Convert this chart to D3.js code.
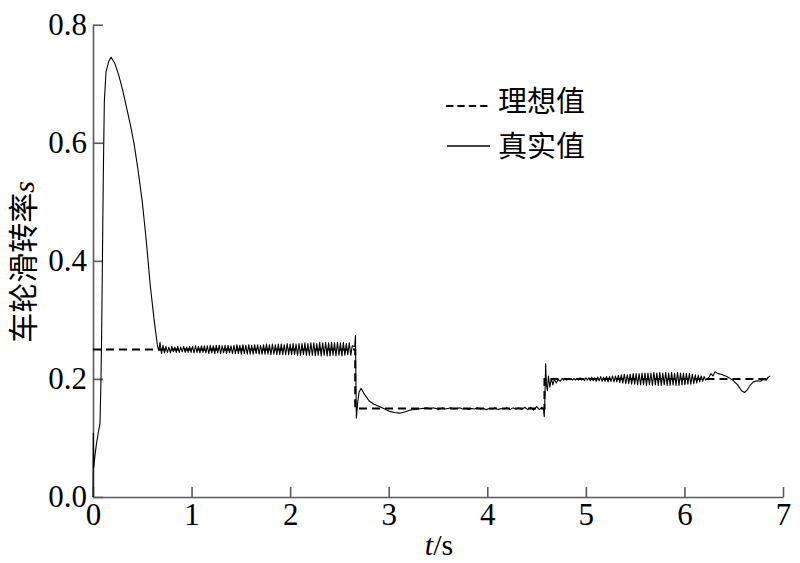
<!DOCTYPE html>
<html><head><meta charset="utf-8">
<script src="https://cdn.jsdelivr.net/npm/d3@7"></script>
<style>body{margin:0;background:#fff}svg{display:block}</style>
</head><body>
<svg id="c" width="800" height="563"></svg>
<script>
// ---------------- data ----------------
const xTicks = [0,1,2,3,4,5,6,7];
const yTicks = [0.0,0.2,0.4,0.6,0.8];
const yTickLabels = ["0.0","0.2","0.4","0.6","0.8"];

const idealT = [0, 2.66, 2.66, 4.58, 4.58, 6.88];
const idealS = [0.25, 0.25, 0.15, 0.15, 0.20, 0.20];

// start-up peak
const headT = [0,0.003,0.008,0.02,0.035,0.05,0.071,0.081,0.088,0.105,0.115,0.132,0.16,0.183,0.22,0.26,0.30,0.34,0.38,0.42,0.46,0.50,0.54,0.58,0.62,0.655,0.668];
const headS = [0,0.108,0.05,0.07,0.09,0.105,0.125,0.20,0.28,0.55,0.67,0.72,0.738,0.745,0.735,0.715,0.69,0.66,0.63,0.595,0.55,0.50,0.435,0.36,0.30,0.255,0.248];

// oscillation around 0.25 (t = 0.68 .. 2.63, every 0.015 s)
const seg1T0 = 0.68, seg1Dt = 0.015;
const seg1S = [
0.262,0.243,0.257,0.244,0.255,0.245,0.254,0.244,0.255,0.246,
0.254,0.245,0.255,0.245,0.254,0.246,0.255,0.245,0.254,0.245,
0.255,0.245,0.255,0.244,0.256,0.245,0.255,0.244,0.256,0.245,
0.256,0.244,0.256,0.243,0.257,0.244,0.256,0.243,0.257,0.244,
0.257,0.243,0.256,0.244,0.257,0.243,0.257,0.244,0.256,0.243,
0.257,0.243,0.258,0.243,0.257,0.242,0.258,0.243,0.257,0.242,
0.258,0.242,0.257,0.242,0.258,0.243,0.258,0.242,0.257,0.242,
0.258,0.242,0.259,0.242,0.258,0.241,0.259,0.242,0.258,0.241,
0.259,0.241,0.259,0.241,0.258,0.241,0.260,0.241,0.259,0.241,
0.260,0.241,0.259,0.240,0.260,0.240,0.260,0.241,0.261,0.240,
0.260,0.240,0.261,0.240,0.261,0.239,0.260,0.240,0.262,0.239,
0.261,0.240,0.262,0.239,0.261,0.239,0.262,0.240,0.261,0.239,
0.262,0.240,0.261,0.239,0.262,0.240,0.260,0.241,0.261,0.240,0.256];

// first step down
const step1T = [2.655,2.663,2.667,2.672,2.685,2.70,2.72,2.75,2.80,2.85,2.91,2.96,3.01,3.06,3.11,3.16,3.21,3.30,3.39];
const step1S = [0.255,0.274,0.20,0.134,0.16,0.178,0.184,0.175,0.163,0.157,0.153,0.149,0.145,0.143,0.142,0.144,0.147,0.149,0.151];

// level 0.15 (t = 3.42 .. 4.53, every 0.03 s)
const seg2T0 = 3.42, seg2Dt = 0.03;
const seg2S = [
0.149,0.151,0.150,0.148,0.151,0.149,0.150,0.151,0.149,0.150,
0.151,0.149,0.150,0.148,0.150,0.149,0.151,0.149,0.150,0.148,
0.150,0.149,0.151,0.148,0.150,0.149,0.151,0.148,0.151,0.149,
0.151,0.148,0.152,0.148,0.152,0.147,0.153,0.148];

// second step up
const step2T = [4.555,4.57,4.578,4.585,4.592,4.60,4.61,4.62,4.635,4.65,4.665,4.68,4.70,4.72,4.74];
const step2S = [0.152,0.148,0.136,0.17,0.226,0.19,0.18,0.205,0.186,0.201,0.19,0.199,0.193,0.199,0.196];

// oscillation around 0.20 (t = 4.76 .. 6.215, every 0.015 s)
const seg3T0 = 4.76, seg3Dt = 0.015;
const seg3S = [
0.201,0.198,0.200,0.198,0.201,0.199,0.200,0.198,0.201,0.198,
0.201,0.198,0.202,0.198,0.201,0.197,0.202,0.198,0.202,0.197,
0.203,0.197,0.202,0.196,0.203,0.197,0.204,0.196,0.203,0.196,
0.204,0.195,0.204,0.196,0.205,0.195,0.205,0.195,0.206,0.194,
0.207,0.193,0.208,0.192,0.207,0.192,0.208,0.191,0.209,0.191,
0.209,0.190,0.209,0.190,0.210,0.190,0.210,0.189,0.210,0.190,
0.210,0.189,0.211,0.190,0.210,0.189,0.211,0.189,0.210,0.190,
0.211,0.189,0.210,0.189,0.211,0.190,0.210,0.189,0.211,0.189,
0.210,0.190,0.210,0.190,0.209,0.191,0.209,0.191,0.208,0.192,
0.207,0.193,0.206,0.195,0.205,0.196,0.204,0.198];

// tail disturbance
const tailT = [6.25,6.27,6.29,6.31,6.34,6.37,6.43,6.49,6.54,6.58,6.61,6.64,6.67,6.70,6.74,6.77,6.80,6.83,6.85,6.87];
const tailS = [0.203,0.209,0.205,0.212,0.209,0.208,0.204,0.198,0.19,0.18,0.177,0.182,0.19,0.195,0.197,0.196,0.199,0.198,0.203,0.205];

const legendLabels = ["理想值","真实值"];
const yTitle = "车轮滑转率";
// ---------------------------------------

function pairs(ts, ss){ return ts.map((t,i)=>[t, ss[i]]); }
function sampled(t0, dt, ss){ return ss.map((s,i)=>[t0 + i*dt, s]); }
const real = [].concat(
  pairs(headT, headS),
  sampled(seg1T0, seg1Dt, seg1S),
  pairs(step1T, step1S),
  sampled(seg2T0, seg2Dt, seg2S),
  pairs(step2T, step2S),
  sampled(seg3T0, seg3Dt, seg3S),
  pairs(tailT, tailS));
const ideal = pairs(idealT, idealS);

const svg = d3.select("#c");
const x = d3.scaleLinear().domain([0,7]).range([93,783]);
const y = d3.scaleLinear().domain([0,0.8]).range([497,24.7]);

const serif = "'Liberation Serif','Times New Roman',serif";
const cjk = "'Noto Sans CJK SC','Noto Sans CJK JP',sans-serif";
const axisCol = "#5a5a5a";

// axes
const gx = svg.append("g").attr("transform","translate(0,497)")
  .call(d3.axisBottom(x).tickValues(xTicks).tickSize(-10).tickSizeOuter(0).tickPadding(15).tickFormat(d3.format("d")));
const gy = svg.append("g").attr("transform","translate(93,0)")
  .call(d3.axisLeft(y).tickValues(yTicks).tickSize(-10).tickSizeOuter(0).tickPadding(6).tickFormat((d,i)=>yTickLabels[i]));
[gx,gy].forEach(g=>{
  g.select(".domain").attr("stroke",axisCol).attr("stroke-width",1.6);
  g.selectAll(".tick line").attr("stroke",axisCol).attr("stroke-width",1.6);
  g.selectAll("text").attr("fill","#000").style("font-family",serif).style("font-size","31px");
});
gx.selectAll("text").attr("y",28).attr("dy","0");

// lines
const line = d3.line().x(d=>x(d[0])).y(d=>y(d[1]));
svg.append("path").datum(ideal).attr("d",line).attr("fill","none")
  .attr("stroke","#000").attr("stroke-width",2).attr("stroke-dasharray","8,5");
svg.append("path").datum(real).attr("d",line).attr("fill","none")
  .attr("stroke","#000").attr("stroke-width",1.1).attr("stroke-linejoin","round");

// legend
svg.append("text").attr("x",445).attr("y",112).style("font-family",serif).style("font-size","28px")
  .attr("letter-spacing","2px").text("----");
svg.append("text").attr("x",498).attr("y",112).style("font-family",cjk).style("font-size","29px").text(legendLabels[0]);
svg.append("line").attr("x1",447).attr("x2",490).attr("y1",146).attr("y2",146).attr("stroke","#000").attr("stroke-width",1.6);
svg.append("text").attr("x",498).attr("y",157).style("font-family",cjk).style("font-size","29px").text(legendLabels[1]);

// y title
const yt = svg.append("text").attr("transform","translate(34,262) rotate(-90)").attr("text-anchor","middle");
yt.append("tspan").style("font-family",cjk).style("font-size","30px").text(yTitle);
yt.append("tspan").style("font-family",serif).style("font-style","italic").style("font-size","30px").text("s");

// x title
const xt = svg.append("text").attr("x",439).attr("y",555).attr("text-anchor","middle").style("font-family",serif).style("font-size","30px");
xt.append("tspan").style("font-style","italic").text("t");
xt.append("tspan").text("/s");
</script>
</body></html>
